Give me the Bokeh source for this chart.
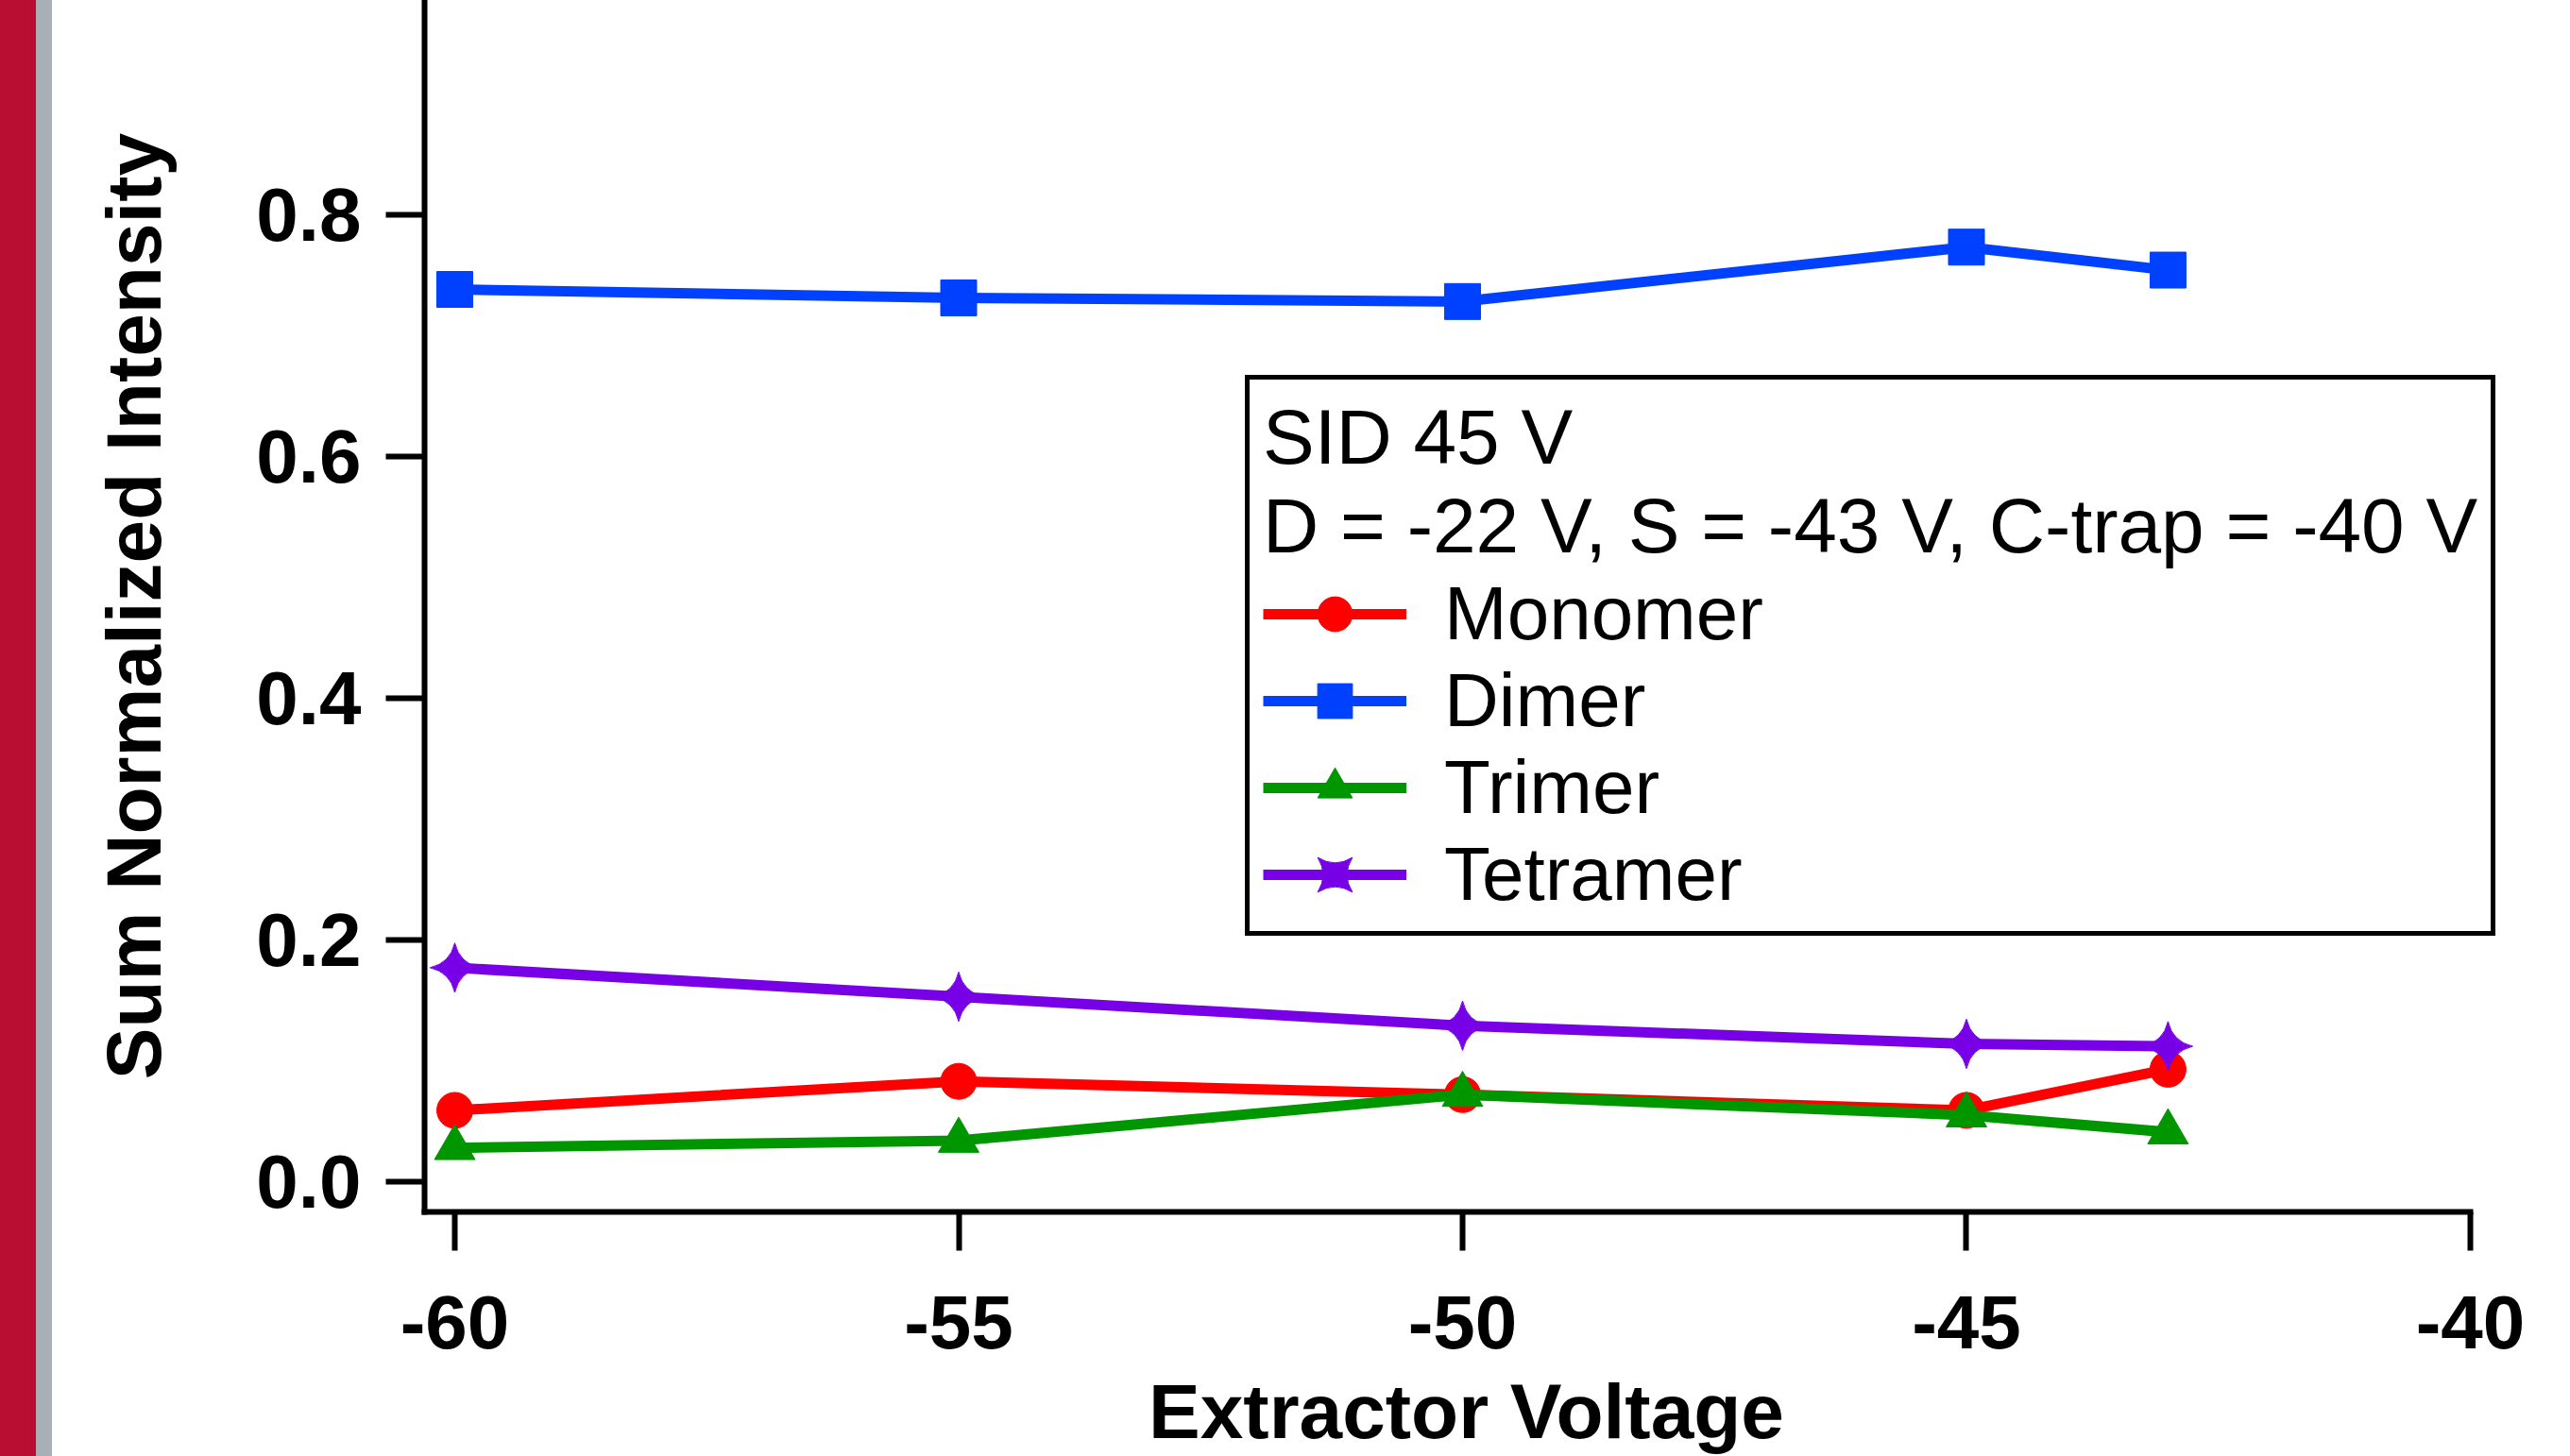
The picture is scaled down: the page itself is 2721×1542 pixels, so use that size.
from bokeh.plotting import figure
from bokeh.models import (Range1d, FixedTicker, PrintfTickFormatter, NumeralTickFormatter,
                          Legend, LegendItem, Div)
from bokeh.layouts import row
from bokeh.embed import file_html
from bokeh.resources import INLINE
from math import pi

# ---- data ----
voltage = [-60, -55, -50, -45, -43]
monomer = [0.059, 0.083, 0.072, 0.059, 0.093]
dimer = [0.738, 0.731, 0.728, 0.773, 0.754]
trimer = [0.028, 0.034, 0.072, 0.055, 0.041]
tetramer = [0.177, 0.153, 0.129, 0.114, 0.112]
series_names = ["Monomer", "Dimer", "Trimer", "Tetramer"]
x_ticks = [-60, -55, -50, -45, -40]
y_ticks = [0.0, 0.2, 0.4, 0.6, 0.8]
legend_header = ["SID 45 V", "D = -22 V, S = -43 V, C-trap = -40 V"]
x_label = "Extractor Voltage"
y_label = "Sum Normalized Intensity"

FONT = "Liberation Sans"
RED = "#FF0000"
BLUE = "#0040FF"
GREEN = "#009600"
PURPLE = "#7800E6"

p = figure(width=2666, height=1542, output_backend="svg", toolbar_location=None,
           x_range=Range1d(-60.3, -39.625), y_range=Range1d(-0.025, 0.977),
           min_border_left=394, min_border_right=66, min_border_top=0,
           min_border_bottom=259)
p.outline_line_color = None
p.grid.visible = False
p.background_fill_color = "white"
p.border_fill_color = "white"

p.xaxis.ticker = FixedTicker(ticks=x_ticks)
p.xaxis.formatter = PrintfTickFormatter(format="%d")
p.xaxis.bounds = (-60.3, -40)
p.yaxis.ticker = FixedTicker(ticks=y_ticks)
p.yaxis.formatter = NumeralTickFormatter(format="0.0")
p.xaxis.axis_label = x_label
p.yaxis.axis_label = y_label

for ax in (p.xaxis[0], p.yaxis[0]):
    ax.axis_line_width = 6
    ax.axis_line_color = "black"
    ax.axis_line_cap = "square"
    ax.major_tick_line_width = 6
    ax.major_tick_line_color = "black"
    ax.major_tick_out = 41
    ax.major_tick_in = 0
    ax.minor_tick_line_color = None
    ax.major_label_text_font = FONT
    ax.major_label_text_font_style = "bold"
    ax.major_label_text_font_size = "80px"
    ax.major_label_text_color = "black"
    ax.axis_label_text_font = FONT
    ax.axis_label_text_font_style = "bold"
    ax.axis_label_text_font_size = "82px"
    ax.axis_label_text_color = "black"
p.xaxis.major_label_standoff = 48
p.yaxis.major_label_standoff = 26
p.xaxis.axis_label_standoff = 18
p.yaxis.axis_label_standoff = 81

specs = [
    (monomer, RED, "circle", 38, 0.0),
    (dimer, BLUE, "square", 38, 0.0),
    (trimer, GREEN, "triangle", 43, 0.0),
    (tetramer, PURPLE, "square_pin", 37, pi / 4),
]
items = []
for name, (vals, col, mk, sz, ang) in zip(series_names, specs):
    lr = p.line(voltage, vals, line_width=11, line_color=col)
    sr = p.scatter(voltage, vals, marker=mk, size=sz, angle=ang,
                   fill_color=col, line_color=col, line_width=1)
    items.append(LegendItem(label=name, renderers=[lr, sr]))

legend = Legend(items=items, location=(869, 292),
                title="\n".join(legend_header))
legend.title_text_font = FONT
legend.title_text_font_size = "82px"
legend.title_text_font_style = "normal"
legend.title_text_color = "black"
legend.title_standoff = 0
legend.label_text_font = FONT
legend.label_text_font_size = "80px"
legend.label_text_color = "black"
legend.glyph_width = 152
legend.glyph_height = 92
legend.label_height = 92
legend.label_standoff = 40
legend.spacing = 0
legend.padding = 14
legend.margin = 0
legend.border_line_color = "black"
legend.border_line_alpha = 1.0
legend.border_line_width = 5
legend.background_fill_color = "white"
legend.background_fill_alpha = 1.0
p.add_layout(legend)

red_bar = Div(width=38, height=1542, margin=0,
              styles={"background-color": "#B90E31"})
gray_bar = Div(width=17, height=1542, margin=0,
               styles={"background-color": "#A8AFB6"})
layout = row(red_bar, gray_bar, p, spacing=0)

open("out.html", "w").write(file_html(layout, INLINE))
